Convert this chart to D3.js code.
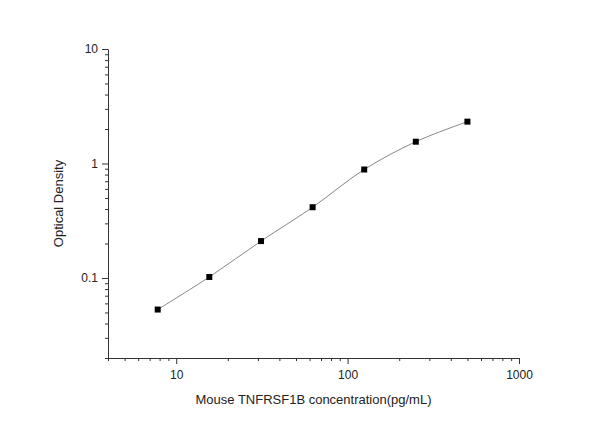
<!DOCTYPE html>
<style>
  body { margin: 0; background: #fff; }
  svg { font-family: Arial, "Liberation Sans", sans-serif; }
  .axis path, .axis line { stroke: #333; }
  .axis text { font-size: 12px; fill: #222; }
</style>
<body></body>
<script src="https://cdn.jsdelivr.net/npm/d3@7"></script>
<script>
  const conc = [7.8, 15.6, 31.25, 62.5, 125, 250, 500];
  const od = [0.053, 0.102, 0.21, 0.415, 0.886, 1.55, 2.32];
  const xTicks = [10, 100, 1000];
  const yTicks = [0.1, 1, 10];

  const w = 608, h = 429;
  const l = 108, r = 519, t = 49, b = 358;
  const svg = d3.select('body').append('svg').attr('width', w).attr('height', h);

  const x = d3.scaleLog().domain([4, 1000]).range([l, r]);
  const y = d3.scaleLog().domain([0.02, 10]).range([b, t]);

  const minorX = [], minorY = [];
  for (let e = 0; e < 3; ++e) for (let k = 2; k <= 9; ++k) {
    const v = k * Math.pow(10, e);
    if (v >= 4 && v < 1000 && v !== 10 && v !== 100) minorX.push(v);
  }
  for (let e = -2; e < 1; ++e) for (let k = 2; k <= 9; ++k) {
    const v = k * Math.pow(10, e);
    if (v >= 0.02 && v < 10 && v !== 0.1 && v !== 1) minorY.push(v);
  }

  // minor ticks
  svg.append('g').attr('class', 'axis').attr('transform', `translate(0,${b})`)
    .call(d3.axisBottom(x).tickValues(minorX).tickSize(3).tickFormat('').tickSizeOuter(0))
    .select('.domain').remove();
  svg.append('g').attr('class', 'axis').attr('transform', `translate(${l},0)`)
    .call(d3.axisLeft(y).tickValues(minorY).tickSize(3).tickFormat('').tickSizeOuter(0))
    .select('.domain').remove();

  // major ticks
  svg.append('g').attr('class', 'axis').attr('transform', `translate(0,${b})`)
    .call(d3.axisBottom(x).tickValues(xTicks).tickSize(6).tickPadding(6).tickFormat(d3.format('d')).tickSizeOuter(0));
  svg.append('g').attr('class', 'axis').attr('transform', `translate(${l},0)`)
    .call(d3.axisLeft(y).tickValues(yTicks).tickSize(6).tickPadding(4).tickFormat(d => d).tickSizeOuter(0));

  const pts = conc.map((c, i) => [c, od[i]]);
  svg.append('path')
    .attr('d', d3.line().x(d => x(d[0])).y(d => y(d[1])).curve(d3.curveCatmullRom)(pts))
    .attr('fill', 'none').attr('stroke', '#888').attr('stroke-width', 1);

  svg.append('g').selectAll('rect').data(pts).join('rect')
    .attr('x', d => x(d[0]) - 3).attr('y', d => y(d[1]) - 3)
    .attr('width', 6).attr('height', 6).attr('fill', '#000');

  svg.append('text').attr('x', (l + r) / 2).attr('y', 404).attr('text-anchor', 'middle')
    .attr('font-size', 13).attr('fill', '#222').text('Mouse TNFRSF1B concentration(pg/mL)');
  svg.append('text').attr('transform', `translate(63,${(t + b) / 2}) rotate(-90)`)
    .attr('text-anchor', 'middle').attr('font-size', 13).attr('fill', '#222').text('Optical Density');
</script>
